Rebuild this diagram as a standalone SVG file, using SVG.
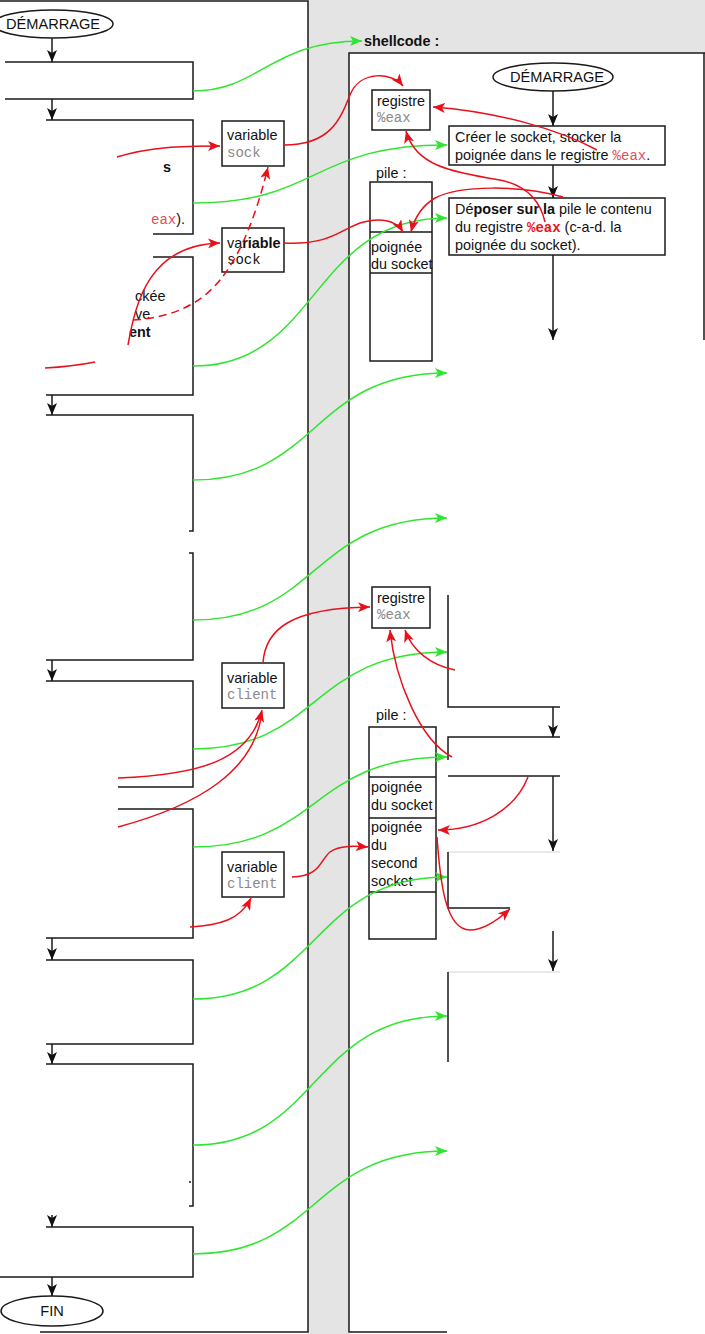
<svg xmlns="http://www.w3.org/2000/svg" width="705" height="1334" viewBox="0 0 705 1334">
<style>
.t{font-family:"Liberation Sans",Arial,sans-serif;font-size:14.4px;fill:#111}
.b{font-weight:bold}
.m{font-family:"Liberation Mono","Courier New",monospace;font-size:14px}
.g{fill:#8a8a8a}
.lr{fill:#e05058}
.rr{fill:#e8101a;font-weight:bold}
.box{fill:#fff;stroke:#1a1a1a;stroke-width:1.5}
.ln{fill:none;stroke:#1a1a1a;stroke-width:1.5}
.fa{fill:none;stroke:#d4d4d4;stroke-width:1}
.ar{fill:none;stroke:#1a1a1a;stroke-width:1.5;marker-end:url(#mb)}
.gr{fill:none;stroke:#2ee62e;stroke-width:1.5;marker-end:url(#mg)}
.rd{fill:none;stroke:#e8101a;stroke-width:1.5;marker-end:url(#mr)}
.rn{fill:none;stroke:#e8101a;stroke-width:1.5}
.ds{stroke-dasharray:8,5}
.big{font-size:14.6px}
</style>
<defs>
<marker id="mb" viewBox="0 0 12 10" refX="12" refY="5" markerWidth="12" markerHeight="10" orient="auto" markerUnits="userSpaceOnUse"><path d="M0,0L12,5L0,10L3,5z" fill="#111"/></marker>
<marker id="mg" viewBox="0 0 12 10" refX="12" refY="5" markerWidth="12" markerHeight="10" orient="auto" markerUnits="userSpaceOnUse"><path d="M0,0L12,5L0,10L3,5z" fill="#2ee62e"/></marker>
<marker id="mr" viewBox="0 0 12 10" refX="12" refY="5" markerWidth="12" markerHeight="10" orient="auto" markerUnits="userSpaceOnUse"><path d="M0,0L12,5L0,10L3,5z" fill="#e8101a"/></marker>
</defs>

<g id="background">
<rect x="0" y="0" width="705" height="1334" fill="#e4e4e4"/>
<rect x="0" y="0" width="308" height="1334" fill="#fff"/>
<rect x="349" y="53" width="356" height="1281" fill="#fff"/>
<path class="ln" d="M0,1H308V1332H40"/>
<path class="ln" d="M705,53H349V1332H447"/>
<path class="ln" d="M704,53V340"/>
</g>

<g id="left-start"><ellipse class="box" cx="53" cy="24" rx="60" ry="14"/><text class="t big" x="53" y="29" text-anchor="middle">DÉMARRAGE</text></g>
<g id="left-step1"><path class="ln" d="M5,62H193V99H5"/></g>
<g id="left-step2"><path class="ln" d="M46,120H193V234H153"/><text class="t b" x="163" y="172">s</text><text class="t" x="151" y="224"><tspan class="m lr">eax</tspan>).</text></g>
<g id="left-step3"><path class="ln" d="M153,257H193V395H46"/><text class="t" x="135" y="301">ckée</text><text class="t" x="135" y="319">ve</text><text class="t b" x="129" y="337">ent</text></g>
<g id="left-step4"><path class="ln" d="M46,415H193V531H189"/></g>
<g id="left-step5"><path class="ln" d="M189,553H193V660H46"/></g>
<g id="left-step6"><path class="ln" d="M46,681H193V787H118"/></g>
<g id="left-step7"><path class="ln" d="M118,809H193V938H46"/></g>
<g id="left-step8"><path class="ln" d="M46,960H193V1044H46"/></g>
<g id="left-step9"><path class="ln" d="M46,1064H193V1206H189"/><path class="ln" d="M189,1182H191" stroke-width="1"/></g>
<g id="left-step10"><path class="ln" d="M46,1227H193V1277H0"/></g>
<g id="left-end"><ellipse class="box" cx="52" cy="1311" rx="51" ry="15"/><text class="t big" x="52" y="1316" text-anchor="middle">FIN</text></g>

<g id="var-sock-1"><rect class="box" x="222" y="121" width="62" height="45"/><text class="t" x="227" y="140">variable</text><text class="m g" x="227" y="157">sock</text></g>
<g id="var-sock-2"><rect class="box" x="222" y="228" width="62" height="44"/><text class="t" x="227" y="248">va<tspan class="b">riable</tspan></text><text class="m" x="227" y="264" fill="#111">sock</text></g>
<g id="var-client-1"><rect class="box" x="222" y="663" width="62" height="45"/><text class="t" x="227" y="683">variable</text><text class="m g" x="227" y="699">client</text></g>
<g id="var-client-2"><rect class="box" x="222" y="852" width="62" height="45"/><text class="t" x="227" y="872">variable</text><text class="m g" x="227" y="888">client</text></g>

<g id="shellcode-label"><text class="t b" x="364" y="46">shellcode :</text></g>
<g id="right-start"><ellipse class="box" cx="553" cy="77" rx="60" ry="14"/><text class="t big" x="557" y="82" text-anchor="middle">DÉMARRAGE</text></g>
<g id="registre-1"><rect class="box" x="372" y="90" width="58" height="40"/><text class="t" x="377" y="106">registre</text><text class="m g" x="377" y="122">%eax</text></g>
<g id="creer"><rect class="box" x="449" y="126" width="216" height="39"/><text class="t" x="455" y="142">Créer le socket, stocker la</text><text class="t" x="455" y="160">poignée dans le registre <tspan class="m lr">%eax</tspan>.</text></g>
<g id="deposer"><rect class="box" x="449" y="198" width="216" height="57"/><text class="t" x="455" y="214">Dé<tspan class="b">poser sur la</tspan> pile le contenu</text><text class="t" x="455" y="232">du registre <tspan class="m rr">%eax</tspan> (c-a-d. la</text><text class="t" x="455" y="250">poignée du socket).</text></g>
<g id="pile-1"><text class="t" x="376" y="178">pile :</text><rect class="box" x="370" y="182" width="62" height="179"/><path class="ln" d="M370,232H432M370,273H432"/><text class="t" x="371" y="252">poignée</text><text class="t" x="371" y="269">du socket</text></g>

<g id="registre-2"><rect class="box" x="372" y="587" width="58" height="41"/><text class="t" x="377" y="603">registre</text><text class="m g" x="377" y="619">%eax</text></g>
<g id="right-step-a"><path class="ln" d="M448,595V707H560"/></g>
<g id="right-step-b"><path class="ln" d="M560,737H448V760"/><path class="ln" d="M448,776H560"/></g>
<g id="right-step-c"><path class="fa" d="M448,852H560"/><path class="ln" d="M448,852V908H510"/></g>
<g id="right-step-d"><path class="fa" d="M448,972H560"/><path class="ln" d="M448,972V1062"/></g>
<g id="pile-2"><text class="t" x="376" y="720">pile :</text><rect class="box" x="369" y="727" width="67" height="212"/><path class="ln" d="M369,777H436M369,818H436M369,892H436"/><text class="t" x="371" y="792">poignée</text><text class="t" x="371" y="810">du socket</text><text class="t" x="371" y="832">poignée</text><text class="t" x="371" y="850">du</text><text class="t" x="371" y="868">second</text><text class="t" x="371" y="886">socket</text></g>

<g id="connectors">
<path class="ar" d="M52,38V62"/>
<path class="ar" d="M52,99V120"/>
<path class="ar" d="M52,395V415"/>
<path class="ar" d="M52,660V681"/>
<path class="ar" d="M52,938V960"/>
<path class="ar" d="M52,1044V1064"/>
<path class="ar" d="M52,1215V1227"/>
<path class="ar" d="M52,1277V1296"/>
<path class="ar" d="M553,91V126"/>
<path class="ar" d="M553,165V198"/>
<path class="ar" d="M553,255V340"/>
<path class="ar" d="M553,707V737"/>
<path class="ar" d="M553,776V851"/>
<path class="ar" d="M553,931V971"/>

<path class="gr" d="M193,91C260,91 270,41 362,41"/>
<path class="gr" d="M193,203C320,203 310,145 447,145"/>
<path class="gr" d="M193,366C320,366 310,218 447,218"/>
<path class="gr" d="M193,480C320,480 310,373 447,373"/>
<path class="gr" d="M193,620C320,620 310,518 447,518"/>
<path class="gr" d="M193,749C320,749 310,652 447,652"/>
<path class="gr" d="M193,847C320,847 310,757 447,757"/>
<path class="gr" d="M193,999C320,999 310,877 447,877"/>
<path class="gr" d="M193,1145C320,1145 310,1016 447,1016"/>
<path class="gr" d="M193,1254C320,1254 310,1151 447,1151"/>

<path class="rd" d="M117,157C150,147 180,146 220,146"/>
<path class="rd" d="M284,145C330,145 340,120 350,95C360,70 392,72 403,86"/>
<path class="rd ds" d="M133,320C170,318 200,305 220,280C245,250 260,200 268,167"/>
<path class="rd" d="M128,345C136,300 150,245 220,243"/>
<path class="rd" d="M284,243C330,245 340,230 360,223C380,217 396,220 403,232"/>
<path class="rn" d="M45,368C65,367 80,365 95,362"/>
<path class="rd" d="M597,150C560,130 500,112 433,107"/>
<path class="rd" d="M545,222C540,200 525,185 500,180C450,172 415,165 406,131"/>
<path class="rd" d="M563,197C520,185 460,185 435,198C420,207 414,220 411,232"/>

<path class="rd" d="M118,778C200,775 250,760 262,710"/>
<path class="rn" d="M118,827C200,805 255,770 262,712"/>
<path class="rd" d="M263,663C265,630 290,608 370,607"/>
<path class="rd" d="M190,927C220,925 240,920 251,898"/>
<path class="rd" d="M292,877C320,877 320,860 330,852C340,845 355,846 368,847"/>
<path class="rd" d="M455,670C430,665 412,650 405,630"/>
<path class="rd" d="M452,757C420,740 395,680 390,630"/>
<path class="rd" d="M528,777C515,810 480,830 438,830"/>
<path class="rd" d="M437,837C440,880 445,930 470,930C485,930 500,918 510,909"/>
</g>
</svg>
